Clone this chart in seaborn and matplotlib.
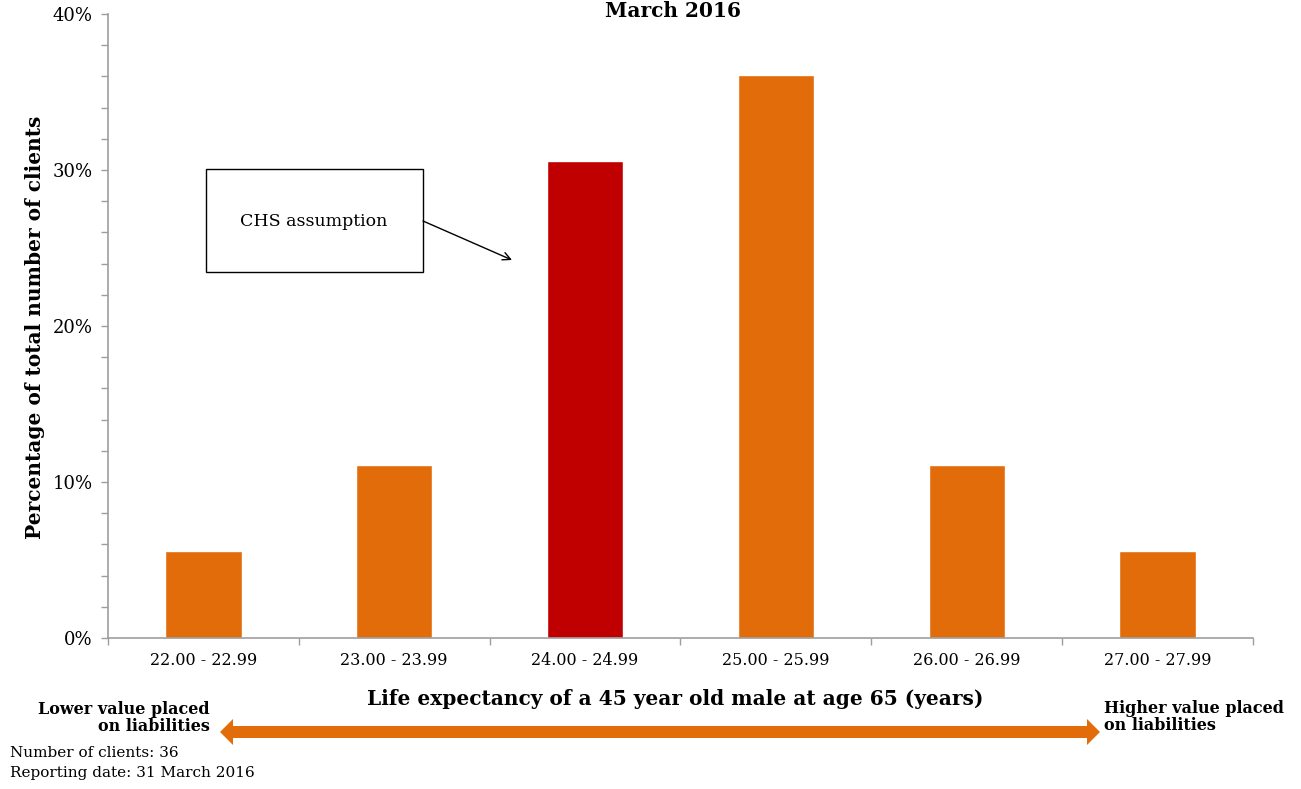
import matplotlib
matplotlib.use("Agg")
import matplotlib.pyplot as plt
import seaborn as sns
import numpy as np
import pandas as pd
from matplotlib.ticker import MultipleLocator, FixedLocator, FuncFormatter
from matplotlib.patches import FancyArrowPatch, Rectangle, Polygon

# Data
categories = ["22.00 - 22.99", "23.00 - 23.99", "24.00 - 24.99",
              "25.00 - 25.99", "26.00 - 26.99", "27.00 - 27.99"]
clients = [2, 4, 11, 13, 4, 2]
total_clients = 36
percent = [100 * c / total_clients for c in clients]
bar_colors = ["#E36C0A", "#E36C0A", "#C00000", "#E36C0A", "#E36C0A", "#E36C0A"]

sns.set_theme(style="white")
plt.rcParams["font.family"] = ["DejaVu Serif"]
plt.rcParams["text.color"] = "black"
plt.rcParams["xtick.color"] = "black"
plt.rcParams["ytick.color"] = "black"

W, H = 1301, 789
fig = plt.figure(figsize=(W / 100, H / 100), dpi=100)
ax = fig.add_axes([108 / W, 1 - 638 / H, (1253 - 108) / W, (638 - 14) / H])

df = pd.DataFrame({"band": categories, "pct": percent})
sns.barplot(data=df, x="band", y="pct", hue="band", palette=bar_colors,
            width=0.4, legend=False, ax=ax, saturation=1)

ax.set_xlim(-0.5, len(categories) - 0.5)
ax.set_ylim(0, 40)

grey = "#9E9E9E"
for s in ["top", "right"]:
    ax.spines[s].set_visible(False)
for s in ["left", "bottom"]:
    ax.spines[s].set_color(grey)
    ax.spines[s].set_linewidth(1.2)

ax.yaxis.set_major_locator(MultipleLocator(10))
ax.yaxis.set_minor_locator(MultipleLocator(2))
ax.yaxis.set_major_formatter(FuncFormatter(lambda v, p: f"{v:.0f}%"))
ax.tick_params(axis="y", which="both", direction="out", length=5, width=1,
               color=grey, labelcolor="black", left=True, labelsize=13, pad=6)
ax.xaxis.set_minor_locator(FixedLocator(np.arange(-0.5, len(categories), 1.0)))
ax.tick_params(axis="x", which="major", length=0, labelsize=11.5, pad=10,
               labelcolor="black")
ax.tick_params(axis="x", which="minor", direction="out", length=5, width=1,
               color=grey, bottom=True)
ax.set_xlabel("")
ax.set_ylabel("")

# Axis titles
fig.text(35 / W, 1 - 327 / H, "Percentage of total number of clients",
         rotation=90, ha="center", va="center", fontsize=14.5, fontweight="bold")
fig.text(675 / W, 1 - 699 / H, "Life expectancy of a 45 year old male at age 65 (years)",
         ha="center", va="center", fontsize=14.5, fontweight="bold")
fig.text(673 / W, 1 - 1 / H, "March 2016", ha="center", va="top",
         fontsize=14.5, fontweight="bold")

# Double-headed direction arrow under the axis (figure pixel outline)
x0, x1, yc = 220, 1100, 732
shaft, head_h, head_l = 6, 13, 13
pts = [(x0, yc), (x0 + head_l, yc - head_h), (x0 + head_l, yc - shaft),
       (x1 - head_l, yc - shaft), (x1 - head_l, yc - head_h), (x1, yc),
       (x1 - head_l, yc + head_h), (x1 - head_l, yc + shaft),
       (x0 + head_l, yc + shaft), (x0 + head_l, yc + head_h)]
arrow = Polygon([(px / W, 1 - py / H) for px, py in pts], closed=True,
                transform=fig.transFigure, facecolor="#E36C0A",
                edgecolor="none")
fig.patches.append(arrow)

fig.text(210 / W, 1 - 718 / H, "Lower value placed\non liabilities", ha="right",
         va="center", fontsize=11.5, fontweight="bold", linespacing=1.05)
fig.text(1104 / W, 1 - 717 / H, "Higher value placed\non liabilities", ha="left",
         va="center", fontsize=11.5, fontweight="bold", linespacing=1.05)
fig.text(10 / W, 1 - 753 / H, f"Number of clients: {total_clients}", ha="left",
         va="center", fontsize=11)
fig.text(10 / W, 1 - 773 / H, "Reporting date: 31 March 2016", ha="left",
         va="center", fontsize=11)

# Callout box for the assumption band
box = Rectangle((206 / W, 1 - 272 / H), (423 - 206) / W, (272 - 169) / H,
                transform=fig.transFigure, facecolor="white", edgecolor="black",
                linewidth=1)
fig.patches.append(box)
fig.text(314 / W, 1 - 221 / H, "CHS assumption", ha="center", va="center",
         fontsize=12.5)
pointer = FancyArrowPatch((423 / W, 1 - 221 / H), (512 / W, 1 - 260 / H),
                          transform=fig.transFigure, arrowstyle="->",
                          mutation_scale=14, color="black", linewidth=1,
                          shrinkA=0, shrinkB=0)
fig.patches.append(pointer)

fig.savefig("out.png", dpi=100, facecolor="white")
